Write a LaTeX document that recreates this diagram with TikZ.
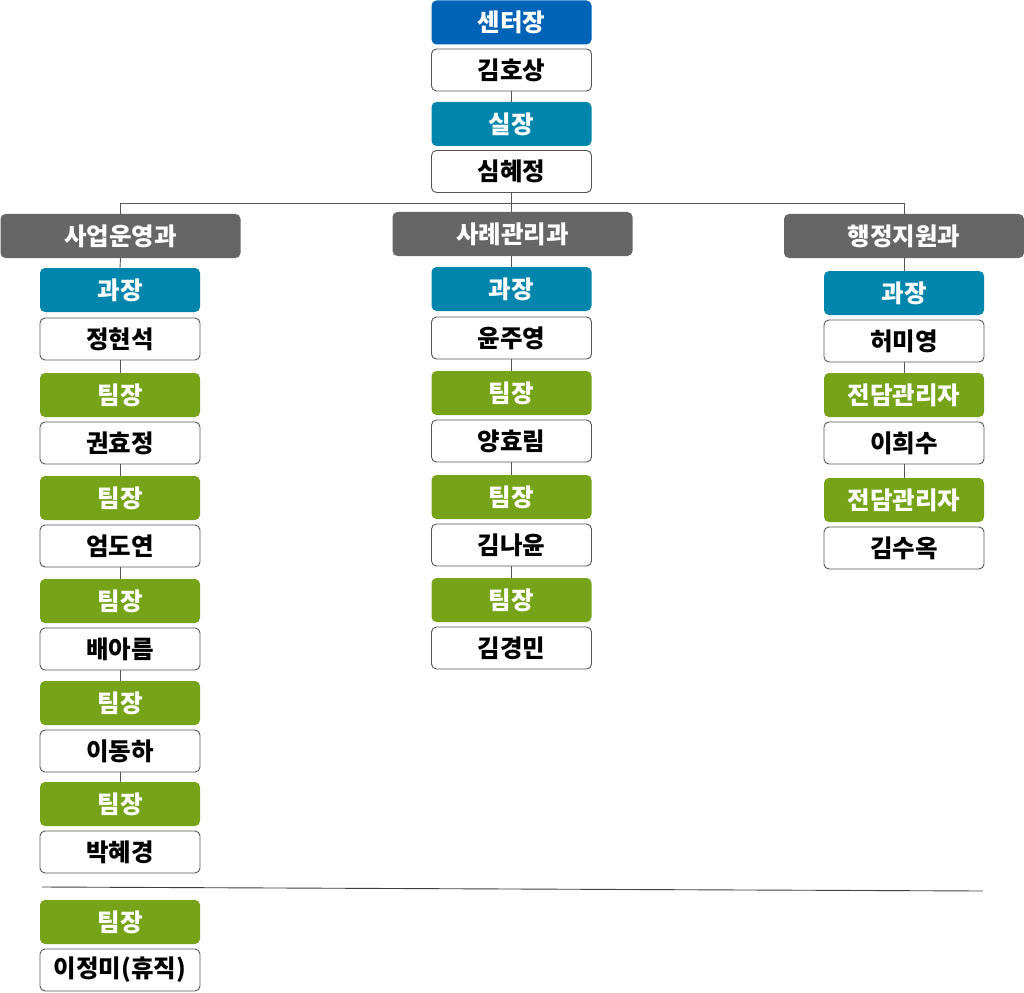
\documentclass[tikz,border=0pt]{standalone}
\usepackage{fontspec}
\newfontfamily\kr{Noto Sans CJK KR}
\definecolor{cblue}{RGB}{0,99,183}
\definecolor{cteal}{RGB}{0,134,173}
\definecolor{cgreen}{RGB}{118,163,24}
\definecolor{cgray}{RGB}{102,102,102}
\definecolor{cline}{RGB}{85,85,85}
\tikzset{
  box/.style={rounded corners=5pt, minimum width=160pt, minimum height=44pt, inner sep=0pt},
  role/.style={box, fill=#1, text=white, font=\kr\bfseries\fontsize{24.5}{24.5}\selectfont},
  person/.style={box, draw=cline, fill=white, line width=0.9pt, minimum height=42pt, font=\kr\bfseries\fontsize{24.5}{24.5}\selectfont},
  dept/.style={box, fill=cgray, text=white, minimum width=240pt, font=\kr\bfseries\fontsize{24.5}{24.5}\selectfont},
  conn/.style={draw=cline, line width=0.9pt}
}
\begin{document}
\begin{tikzpicture}[x=1pt,y=-1pt]
\useasboundingbox (0,0) rectangle (1024,992);
% top
\node[role=cblue] (ceo) at (511.5,22.5) {센터장};
\node[person] (ceon) at (511.5,70) {김호상};
\node[role=cteal] (sil) at (511.5,124) {실장};
\node[person] (siln) at (511.5,171.5) {심혜정};
\coordinate (hl) at (120.5,203);
\coordinate (hm) at (511.5,203);
\coordinate (hr) at (904,203);
% departments
\node[dept] (d1) at (120.5,236) {사업운영과};
\node[dept] (d2) at (512.5,234) {사례관리과};
\node[dept] (d3) at (904,236) {행정지원과};
% left column
\node[role=cteal] (a1) at (120,290) {과장};
\node[person] (a1n) at (120,339) {정현석};
\node[role=cgreen] (a2) at (120,395) {팀장};
\node[person] (a2n) at (120,443) {권효정};
\node[role=cgreen] (a3) at (120,498) {팀장};
\node[person] (a3n) at (120,546) {엄도연};
\node[role=cgreen] (a4) at (120,601) {팀장};
\node[person] (a4n) at (120,649) {배아름};
\node[role=cgreen] (a5) at (120,703) {팀장};
\node[person] (a5n) at (120,751) {이동하};
\node[role=cgreen] (a6) at (120,804) {팀장};
\node[person] (a6n) at (120,852) {박혜경};
\node[role=cgreen] (a7) at (120,922) {팀장};
\node[person] (a7n) at (120,970) {이정미(휴직)};
% middle column
\node[role=cteal] (b1) at (511.5,289) {과장};
\node[person] (b1n) at (511.5,338) {윤주영};
\node[role=cgreen] (b2) at (511.5,393) {팀장};
\node[person] (b2n) at (511.5,441) {양효림};
\node[role=cgreen] (b3) at (511.5,497) {팀장};
\node[person] (b3n) at (511.5,545) {김나윤};
\node[role=cgreen] (b4) at (511.5,600) {팀장};
\node[person] (b4n) at (511.5,648) {김경민};
% right column
\node[role=cteal] (c1) at (904,293) {과장};
\node[person] (c1n) at (904,341) {허미영};
\node[role=cgreen] (c2) at (904,395) {전담관리자};
\node[person] (c2n) at (904,443) {이희수};
\node[role=cgreen] (c3) at (904,500) {전담관리자};
\node[person] (c3n) at (904,548) {김수옥};
% separator
\coordinate (sepl) at (42,887);
\coordinate (sepr) at (983,891);
\draw[conn, draw=black!75] (sepl) -- (sepr);
% connectors
\draw[conn] (ceon.south) -- (sil.north);
\draw[conn] (siln.south) -- (hm);
\draw[conn] (hl) -- (hr);
\draw[conn] (hl) -- (d1.north);
\draw[conn] (hm) -- (hm |- d2.north);
\draw[conn] (hr) -- (d3.north);
\draw[conn] (d1.south) -- (a1.north);
\draw[conn] (a1n.south) -- (a2.north);
\draw[conn] (a2n.south) -- (a3.north);
\draw[conn] (a3n.south) -- (a4.north);
\draw[conn] (a4n.south) -- (a5.north);
\draw[conn] (a5n.south) -- (a6.north);
\draw[conn] (d2.south -| b1.north) -- (b1.north);
\draw[conn] (b1n.south) -- (b2.north);
\draw[conn] (b2n.south) -- (b3.north);
\draw[conn] (b3n.south) -- (b4.north);
\draw[conn] (d3.south) -- (c1.north);
\draw[conn] (c1n.south) -- (c2.north);
\draw[conn] (c2n.south) -- (c3.north);
\end{tikzpicture}
\end{document}
